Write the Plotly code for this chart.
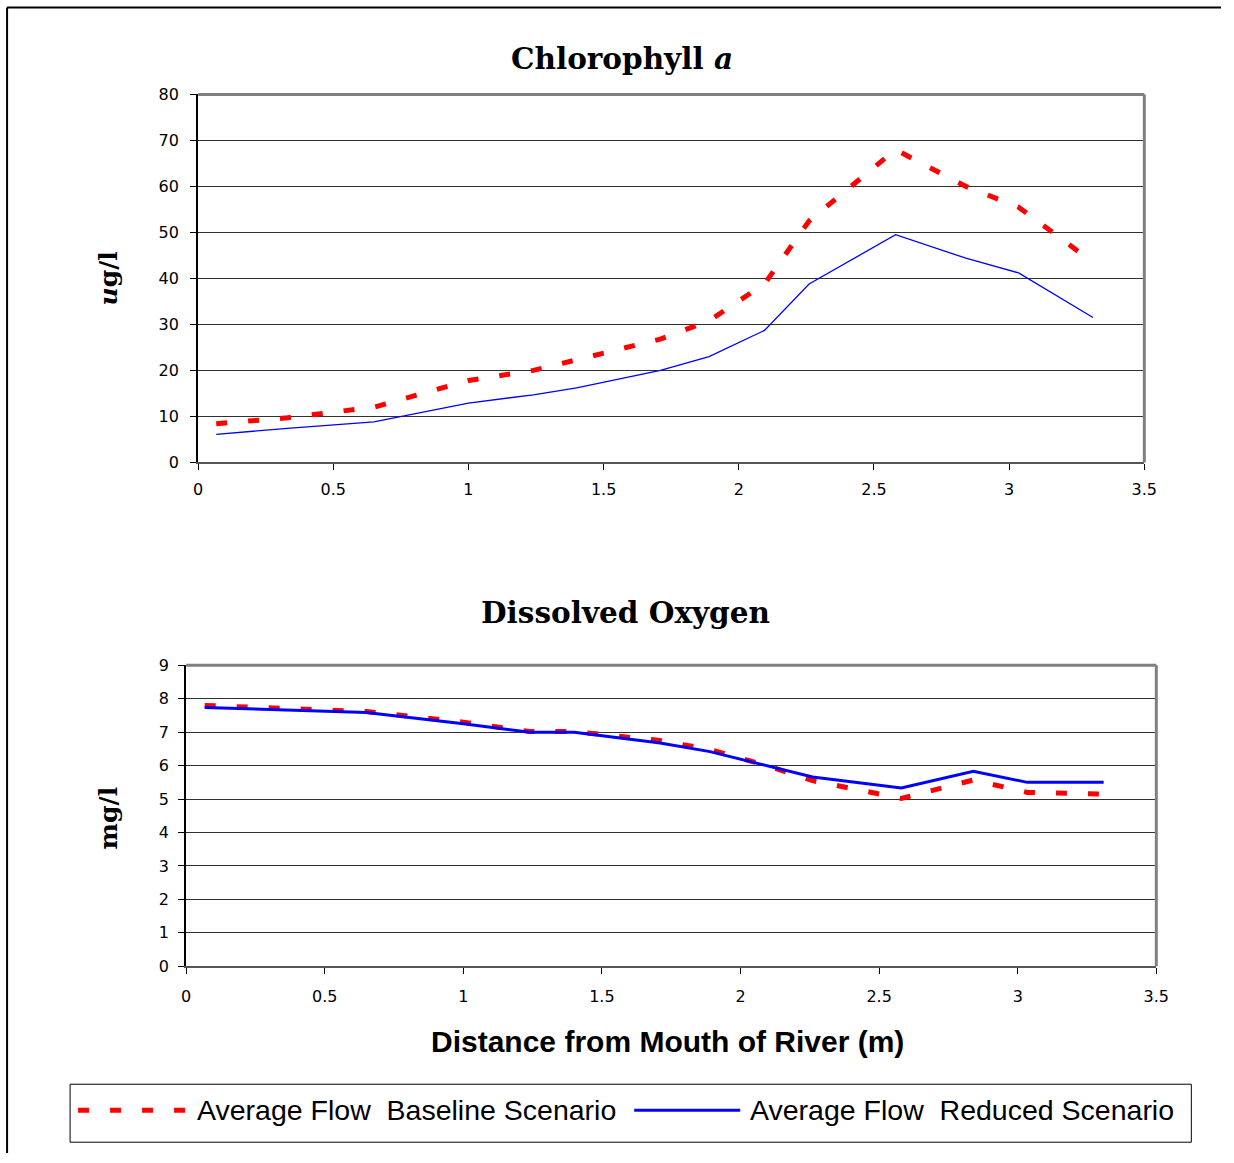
import plotly.graph_objects as go

# ---------------- data ----------------
distance = [0.067, 0.33, 0.65, 1.0, 1.24, 1.40, 1.71, 1.89, 2.095, 2.26, 2.58, 2.84, 3.035, 3.31]

chl_baseline = [8.4, 9.7, 12.0, 17.8, 20.0, 22.3, 26.8, 30.8, 38.8, 52.5, 68.0, 60.0, 55.5, 43.5]
chl_reduced = [6.1, 7.4, 8.8, 12.9, 14.7, 16.2, 20.0, 23.0, 28.7, 38.8, 49.5, 44.4, 41.2, 31.5]

do_baseline = [7.8, 7.72, 7.62, 7.3, 7.02, 7.02, 6.75, 6.48, 6.0, 5.55, 5.02, 5.57, 5.2, 5.15]
do_reduced = [7.74, 7.67, 7.59, 7.25, 7.0, 7.0, 6.68, 6.42, 6.0, 5.66, 5.33, 5.83, 5.5, 5.5]

x_ticks = [0, 0.5, 1, 1.5, 2, 2.5, 3, 3.5]
x_ticktext = ["0", "0.5", "1", "1.5", "2", "2.5", "3", "3.5"]
chl_ticks = [0, 10, 20, 30, 40, 50, 60, 70, 80]
do_ticks = [0, 1, 2, 3, 4, 5, 6, 7, 8, 9]

name_base = "Average Flow  Baseline Scenario"
name_red = "Average Flow  Reduced Scenario"

# ---------------- geometry helpers ----------------
W, H = 1234, 1163
SX, CX = 0.9852, 4.93
SY, CY = 0.9839, 8.51


def X(t):
    return ((t - CX) / SX) / W


def Y(t):
    return 1 - ((t - CY) / SY) / H


RED = "#FF0000"
BLUE = "#0000FF"
DASH = "11px,21px"

fig = go.Figure()

fig.add_trace(go.Scatter(x=distance, y=chl_baseline, mode="lines", name=name_base,
                         line=dict(color=RED, width=5, dash=DASH), xaxis="x", yaxis="y",
                         showlegend=False))
fig.add_trace(go.Scatter(x=distance, y=chl_reduced, mode="lines", name=name_red,
                         line=dict(color=BLUE, width=1.3), xaxis="x", yaxis="y",
                         showlegend=False))
fig.add_trace(go.Scatter(x=distance, y=do_baseline, mode="lines", name=name_base,
                         line=dict(color=RED, width=5, dash=DASH), xaxis="x2", yaxis="y2",
                         showlegend=False))
fig.add_trace(go.Scatter(x=distance, y=do_reduced, mode="lines", name=name_red,
                         line=dict(color=BLUE, width=3), xaxis="x2", yaxis="y2",
                         showlegend=False))

tickfont = dict(family="DejaVu Sans", size=16, color="black")

xcommon = dict(range=[0, 3.5], tickvals=x_ticks, ticktext=x_ticktext, ticks="outside",
               ticklen=6, tickcolor="black", tickwidth=1, showgrid=False, zeroline=False,
               showline=True, linecolor="#555555", linewidth=2, tickfont=tickfont,
               fixedrange=True)
ycommon = dict(ticks="outside", ticklen=6, tickcolor="black", tickwidth=1,
               showgrid=True, gridcolor="#303030", gridwidth=1, zeroline=False,
               showline=True, linecolor="black", linewidth=2, tickfont=tickfont,
               fixedrange=True)

fig.update_layout(
    width=W, height=H,
    margin=dict(l=0, r=0, t=0, b=0),
    paper_bgcolor="white", plot_bgcolor="white",
    xaxis=dict(domain=[X(198), X(1144)], anchor="y", ticklabelstandoff=5, **xcommon),
    yaxis=dict(domain=[Y(462), Y(94)], anchor="x", range=[0, 80], tickvals=chl_ticks,
               ticklabelstandoff=8, **ycommon),
    xaxis2=dict(domain=[X(186), X(1156)], anchor="y2", ticklabelstandoff=9, **xcommon),
    yaxis2=dict(domain=[Y(966), Y(665)], anchor="x2", range=[0, 9], tickvals=do_ticks,
                ticklabelstandoff=6, **ycommon),
)

shapes = []
# gray plot borders (top & right)
for (x0, x1, y0, y1) in [(198, 1144, 94, 462), (186, 1156, 665, 966)]:
    shapes.append(dict(type="line", xref="paper", yref="paper", x0=X(x0), x1=X(x1),
                       y0=Y(y0), y1=Y(y0), line=dict(color="#808080", width=3)))
    shapes.append(dict(type="line", xref="paper", yref="paper", x0=X(x1), x1=X(x1),
                       y0=Y(y0), y1=Y(y1), line=dict(color="#808080", width=3)))
# outer frame (left & top)
shapes.append(dict(type="line", xref="paper", yref="paper", x0=X(7), x1=X(7),
                   y0=Y(7), y1=0, line=dict(color="black", width=2)))
shapes.append(dict(type="line", xref="paper", yref="paper", x0=X(7), x1=1,
                   y0=Y(7), y1=Y(7), line=dict(color="black", width=2)))
# legend box
shapes.append(dict(type="rect", xref="paper", yref="paper", x0=X(70), x1=X(1191),
                   y0=Y(1142), y1=Y(1084), line=dict(color="black", width=1)))
shapes.append(dict(type="line", xref="paper", yref="paper", x0=X(78), x1=X(188),
                   y0=Y(1110), y1=Y(1110), line=dict(color=RED, width=5, dash=DASH)))
shapes.append(dict(type="line", xref="paper", yref="paper", x0=X(634), x1=X(740),
                   y0=Y(1110), y1=Y(1110), line=dict(color=BLUE, width=3)))
fig.update_layout(shapes=shapes)

serif = "DejaVu Serif"
ann = [
    dict(text="<b>Chlorophyll <i>a</i></b>", x=X(622), y=Y(58), font=dict(family=serif, size=29.5)),
    dict(text="<b>Dissolved Oxygen</b>", x=X(625), y=Y(612), font=dict(family=serif, size=29.5)),
    dict(text="<b><i>u</i>g/l</b>", x=X(108), y=Y(278), textangle=-90,
         font=dict(family=serif, size=25)),
    dict(text="<b>mg/l</b>", x=X(108), y=Y(818), textangle=-90,
         font=dict(family=serif, size=25)),
    dict(text="<b>Distance from Mouth of River (m)</b>", x=X(667), y=Y(1041),
         font=dict(family="Liberation Sans", size=30)),
    dict(text=name_base, x=X(195), y=Y(1110), xanchor="left",
         font=dict(family="Liberation Sans", size=28.5)),
    dict(text=name_red, x=X(748), y=Y(1110), xanchor="left",
         font=dict(family="Liberation Sans", size=28.5)),
]
annotations = []
for a in ann:
    base = dict(xref="paper", yref="paper", showarrow=False, xanchor="center",
                yanchor="middle")
    base.update(a)
    base["font"] = dict(color="black", **a["font"])
    annotations.append(base)
fig.update_layout(annotations=annotations)

fig.write_html(
    "out.html",
    config={"displayModeBar": False},
    post_script="document.body.style.margin='0';document.body.style.overflow='hidden';",
)
